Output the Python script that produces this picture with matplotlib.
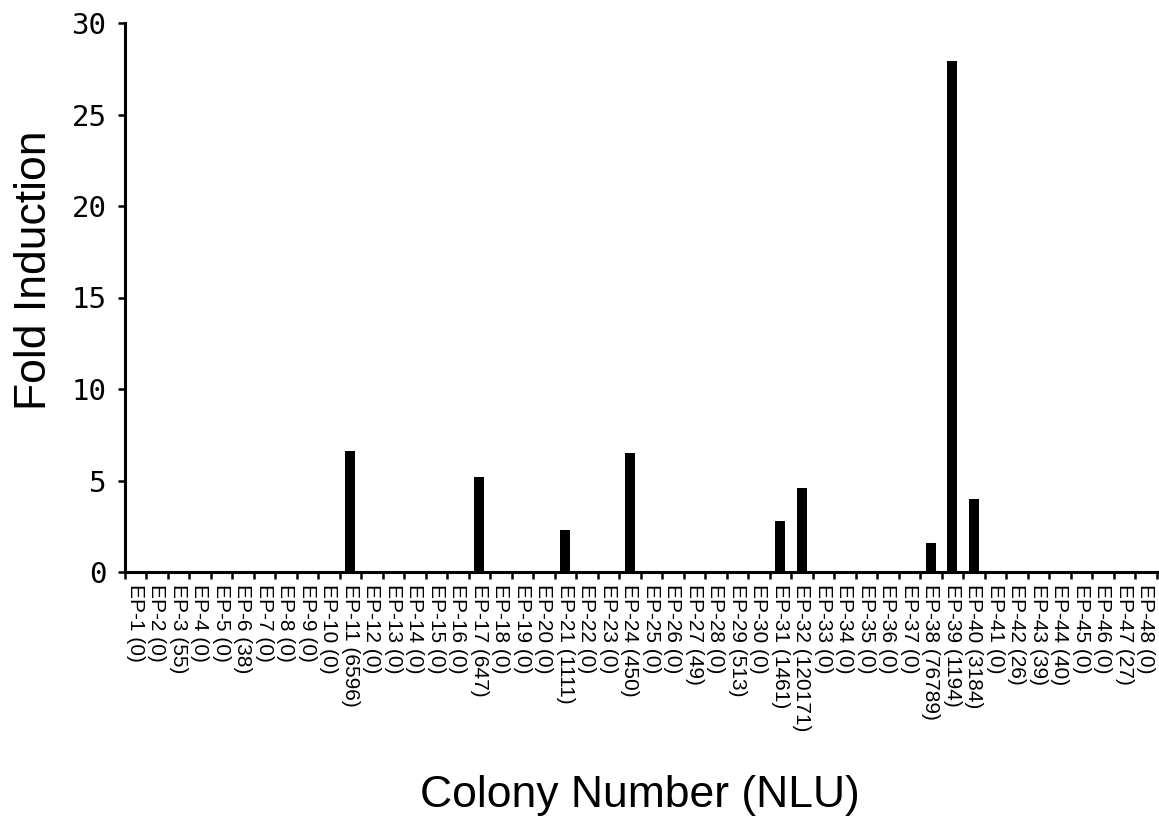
import numpy as np
import matplotlib.pyplot as plt

# colony names and luciferase units (NLU) shown under each bar
colonies = ["EP-%d" % i for i in range(1, 49)]
nlu = [0, 0, 55, 0, 0, 38, 0, 0, 0, 0,
       6596, 0, 0, 0, 0, 0, 647, 0, 0, 0,
       1111, 0, 0, 450, 0, 0, 49, 0, 513, 0,
       1461, 120171, 0, 0, 0, 0, 0, 76789, 1194, 3184,
       0, 26, 39, 40, 0, 0, 27, 0]
fold = [0, 0, 0, 0, 0, 0, 0, 0, 0, 0,
        6.6, 0, 0, 0, 0, 0, 5.2, 0, 0, 0,
        2.3, 0, 0, 6.5, 0, 0, 0, 0, 0, 0,
        2.8, 4.6, 0, 0, 0, 0, 0, 1.6, 27.9, 4.0,
        0, 0, 0, 0, 0, 0, 0, 0]
yticks = [0, 5, 10, 15, 20, 25, 30]

labels = [f"{c} ({n})" for c, n in zip(colonies, nlu)]
x = np.arange(1, len(colonies) + 1)

fig = plt.figure(figsize=(11.59, 8.17), dpi=100)
ax = fig.add_axes([124.5/1159, 1 - 572/817, 1032/1159, 549/817])

ax.bar(x, fold, width=0.46, color='black')

ax.set_xlim(0.5, len(colonies) + 0.5)
ax.set_ylim(0, 30)

# labels at the centres, small ticks at the category boundaries
ax.set_xticks(x)
ax.set_xticklabels(labels, rotation=270, fontsize=15, family='Liberation Sans',
                   va='top', ha='center')
ax.tick_params(axis='x', which='major', length=0, pad=9)
ax.set_xticks(np.arange(0.5, len(colonies) + 1), minor=True)
ax.tick_params(axis='x', which='minor', length=5, width=1.8, direction='out')

ax.set_yticks(yticks)
ax.set_yticklabels([str(v) for v in yticks], fontsize=21, family='DejaVu Sans Mono')
ax.tick_params(axis='y', length=5, width=1.8, direction='out', pad=8)

for s in ['top', 'right']:
    ax.spines[s].set_visible(False)
for s in ['left', 'bottom']:
    ax.spines[s].set_linewidth(2.2)

fig.text(35/1159, 1 - 270/817, "Fold Induction", rotation=90, fontsize=32,
         family='Liberation Sans', ha='center', va='center')
fig.text(640/1159, 1 - 795/817, "Colony Number (NLU)", fontsize=32,
         family='Liberation Sans', ha='center', va='center')

plt.savefig("out.png", dpi=100)
